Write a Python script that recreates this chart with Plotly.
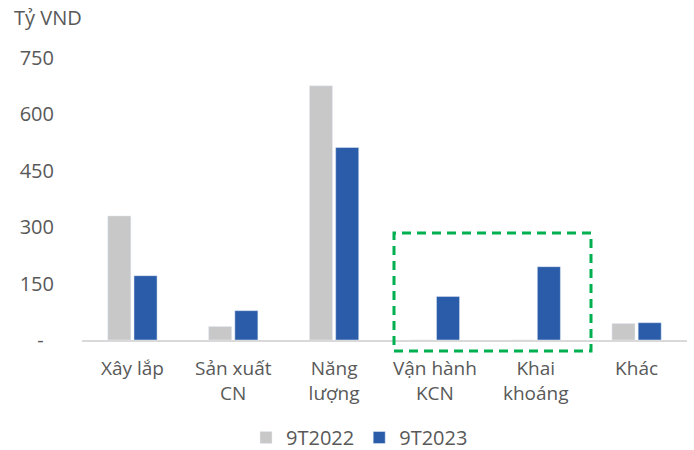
import plotly.graph_objects as go

categories = ["Xây lắp", "Sản xuất<br>CN", "Năng<br>lượng", "Vận hành<br>KCN", "Khai<br>khoáng", "Khác"]
series_2022 = [330, 36, 676, 0, 0, 44]
series_2023 = [171, 78, 512, 116, 195, 46]
tick_vals = [0, 150, 300, 450, 600, 750]
tick_text = ["-\u00a0\u00a0", "150", "300", "450", "600", "750"]

GRAY = "#c8c8c8"
BLUE = "#2a5caa"
TXT = "#595959"
FONT = "Open Sans"

fig = go.Figure()
fig.add_trace(go.Bar(x=categories, y=series_2022, name="9T2022", marker=dict(color=GRAY)))
fig.add_trace(go.Bar(x=categories, y=series_2023, name="9T2023", marker=dict(color=BLUE)))

fig.update_layout(
    width=694, height=450,
    margin=dict(l=82, r=7, t=58, b=110, autoexpand=False),
    plot_bgcolor="white", paper_bgcolor="white",
    barmode="group", bargap=0.48, bargroupgap=0.12,
    font=dict(family=FONT, color=TXT),
    title=dict(text="Tỷ VND", x=14/694, xanchor="left", xref="container",
               y=1-18/450, yanchor="middle", yref="container",
               font=dict(family=FONT, size=20, color=TXT)),
    legend=dict(orientation="h", x=0.5 - 25/605, xanchor="center",
                y=(340-457)/282, yanchor="bottom",
                font=dict(family=FONT, size=20, color=TXT), itemwidth=30,
                traceorder="normal"),
    showlegend=True,
)
fig.update_xaxes(showline=True, linecolor="#d9d9d9", linewidth=2, ticks="", automargin=False,
                 tickfont=dict(family=FONT, size=19, color=TXT), showgrid=False,
                 ticklabelstandoff=10)
fig.update_yaxes(range=[0, 750], tickvals=tick_vals, ticktext=tick_text, showgrid=False,
                 zeroline=False, showline=False, ticks="", automargin=False,
                 tickfont=dict(family=FONT, size=20, color=TXT), ticklabelstandoff=27)

# dashed highlight box around "Vận hành KCN" and "Khai khoáng"
fig.add_shape(type="rect", xref="paper", yref="paper",
              x0=(394-82)/605, x1=(591-82)/605, y0=(340-351)/282, y1=(340-233)/282,
              line=dict(color="#00b050", width=3, dash="9px,6px"), fillcolor="rgba(0,0,0,0)")

fig.write_html("out.html")
